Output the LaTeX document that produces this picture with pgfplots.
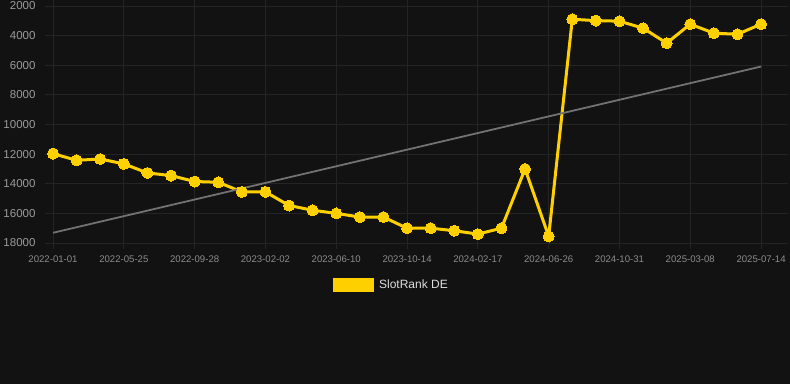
\documentclass[border=0pt]{standalone}
\usepackage{pgfplots}
\pgfplotsset{compat=1.18}
\usepackage{fontspec}
\setmainfont{Liberation Sans}
\definecolor{bgc}{HTML}{121212}
\definecolor{gridc}{HTML}{242424}
\definecolor{ylw}{HTML}{FFD000}
\definecolor{trendc}{HTML}{727272}
\definecolor{ytickc}{HTML}{9A9A9A}
\definecolor{xtickc}{HTML}{8C8C8C}
\definecolor{legc}{HTML}{DDDDDD}
\begin{document}
\begin{tikzpicture}[x=1pt,y=1pt]
\fill[bgc] (0,0) rectangle (790,384);
\useasboundingbox (0,0) rectangle (790,384);
\begin{axis}[
  at={(45pt,141pt)}, anchor=south west,
  scale only axis, width=743pt, height=243pt,
  xmin=-0.34, xmax=31.14,
  ymin=1600, ymax=18000, y dir=reverse,
  axis line style={draw=none},
  xtick={0,3,...,30},
  xticklabels={2022-01-01,2022-05-25,2022-09-28,2023-02-02,2023-06-10,2023-10-14,2024-02-17,2024-06-26,2024-10-31,2025-03-08,2025-07-14},
  ytick={2000,4000,...,18000},
  scaled y ticks=false,
  grid=major,
  major grid style={draw=gridc, line width=0.8pt},
  xtick pos=bottom, ytick pos=left,
  tick align=outside,
  major tick length=6pt,
  xtick style={draw=gridc, line width=0.8pt},
  ytick style={draw=none},
  x tick label style={font=\fontsize{9.6}{10}\selectfont, text=xtickc, yshift=-3.5pt},
  y tick label style={font=\fontsize{11.5}{12}\selectfont, text=ytickc},
  /pgf/number format/1000 sep={},
  /pgf/number format/assume math mode=true,
  legend style={at={(0.4663,-0.172)}, anchor=center, draw=none, fill=none,
    text=legc, font=\fontsize{12}{13}\selectfont, inner sep=0pt},
  legend cell align=left,
]
\addplot[color=ylw, line width=3pt, mark=*, mark size=5.5pt, mark options={fill=ylw, draw=ylw, line width=0pt},
  legend image code/.code={\fill[ylw] (0pt,-5.5pt) rectangle (38pt,5.5pt); \path (41pt,0pt);}]
coordinates {
(0,11970) (1,12420) (2,12330) (3,12660) (4,13270) (5,13450) (6,13850) (7,13900)
(8,14550) (9,14550) (10,15470) (11,15790) (12,16000) (13,16250) (14,16250)
(15,17000) (16,17000) (17,17170) (18,17400) (19,17000) (20,13000) (21,17550)
(22,2900) (23,2990) (24,3030) (25,3500) (26,4510) (27,3230) (28,3840) (29,3910) (30,3230)
};
\addlegendentry{SlotRank DE}
\addplot[color=trendc, line width=1.8pt, forget plot] coordinates {(0,17310) (30,6090)};
\end{axis}
\end{tikzpicture}
\end{document}
